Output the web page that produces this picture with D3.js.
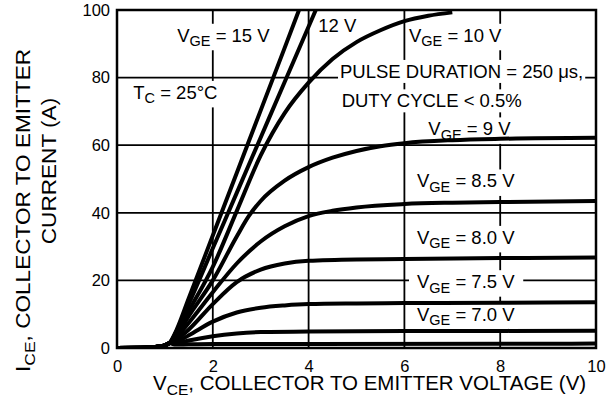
<!DOCTYPE html>
<html><head><meta charset="utf-8">
<script src="https://cdn.jsdelivr.net/npm/d3@7"></script>
<style>
html,body{margin:0;padding:0;background:#fff;}
svg{display:block;font-family:"Liberation Sans",Arial,Helvetica,sans-serif;}
</style></head>
<body>
<svg id="chart" width="613" height="407"></svg>
<script>
// ---- data (VCE in volts, ICE in amperes) ----
const xTicks = [0, 2, 4, 6, 8, 10];
const yTicks = [0, 20, 40, 60, 80, 100];
const leakage = [[0,0],[0.5,0.05],[0.8,0.3],[1.0,0.8],[1.1,1.5]];
const vge15 = [[1.2,4],[1.5,14.8],[2,33.3],[2.5,51.8],[3,70.3],[3.5,88.8],[3.8,100]];
const vge12 = [[1.2,3.8],[1.5,13.1],[2,29.5],[2.5,45.9],[3,62.3],[3.5,78.7],[4.15,100]];
const vge10 = [[1.2,3.2],[1.5,11],[2,24],[2.5,40.5],[3,57],[3.5,69.5],[4,78.5],[4.5,85.5],[5,90.5],[5.5,94],[6,96.7],[6.5,98.3],[7,99.3]];
const vge9  = [[1.2,2.8],[1.5,9.5],[2,20],[2.5,33],[2.75,39],[3,43.5],[3.5,49.5],[4,53.5],[4.5,56.3],[5,58.3],[5.5,59.7],[6,60.6],[7,61.5],[8,61.9],[10,62.2]];
const vge85 = [[1.2,2.5],[1.5,7.5],[2,16.5],[2.5,25],[3,31.5],[3.5,36],[4,39],[4.5,40.6],[5,41.6],[6,42.6],[7,43],[8,43.2],[10,43.5]];
const vge80 = [[1.2,2],[1.5,5.5],[2,13],[2.5,19.5],[3,23.2],[3.5,25],[4,25.8],[5,26.2],[6,26.3],[8,26.6],[10,26.8]];
const vge75 = [[1.2,1.6],[1.5,3.8],[2,7.8],[2.5,10.5],[3,11.9],[3.5,12.6],[4,13],[5,13.2],[6,13.3],[8,13.4],[10,13.5]];
const vge70 = [[1.2,1.2],[1.5,2.2],[2,3.5],[2.5,4.3],[3,4.7],[4,4.9],[6,5],[10,5.1]];
const vge65 = [[1.2,1.0],[1.5,1.1],[2,1.2],[4,1.2],[10,1.3]];
const series = [vge15, vge12, vge10, vge9, vge85, vge80, vge75, vge70, vge65];

// ---- layout ----
const svg = d3.select("#chart");
const x = d3.scaleLinear().domain([0,10]).range([117,596]);
const y = d3.scaleLinear().domain([0,100]).range([348,10]);
const font = '"Liberation Sans",Arial,Helvetica,sans-serif';

// grid
const grid = svg.append("g");
grid.selectAll("line.v").data(xTicks.slice(1,-1)).join("line")
  .attr("x1", d=>x(d)).attr("x2", d=>x(d)).attr("y1", y(0)).attr("y2", y(100))
  .attr("stroke","#000").attr("stroke-width",1.8);
grid.selectAll("line.h").data(yTicks.slice(1,-1)).join("line")
  .attr("x1", x(0)).attr("x2", x(10)).attr("y1", d=>y(d)).attr("y2", d=>y(d))
  .attr("stroke","#000").attr("stroke-width",1.8);

const bgLayer = svg.append("g");
const curveLayer = svg.append("g");
const textLayer = svg.append("g");

// curves
svg.append("clipPath").attr("id","clip").append("rect")
  .attr("x", x(0)).attr("y", y(100)).attr("width", x(10)-x(0)).attr("height", y(0)-y(100));
const line = d3.line().x(d=>x(d[0])).y(d=>y(d[1])).curve(d3.curveMonotoneX);
curveLayer.attr("clip-path","url(#clip)").selectAll("path").data(series).join("path")
  .attr("d", d=>line(leakage.concat(d)))
  .attr("fill","none").attr("stroke","#000").attr("stroke-width",4)
  .attr("stroke-linejoin","round");

// border
svg.append("rect").attr("x", x(0)).attr("y", y(100)).attr("width", x(10)-x(0)).attr("height", y(0)-y(100))
  .attr("fill","none").attr("stroke","#000").attr("stroke-width",2.5);

// axes tick labels
const xAxis = d3.axisBottom(x).tickValues(xTicks).tickSize(0).tickPadding(12).tickFormat(d3.format("d"));
const gx = svg.append("g").attr("transform",`translate(0,${y(0)})`).call(xAxis);
gx.select(".domain").remove();
gx.selectAll("text").attr("font-size",16.5).attr("font-family",font).attr("fill","#000");
const yAxis = d3.axisLeft(y).tickValues(yTicks).tickSize(0).tickPadding(7).tickFormat(d3.format("d"));
const gy = svg.append("g").attr("transform",`translate(${x(0)},0)`).call(yAxis);
gy.select(".domain").remove();
gy.selectAll("text").attr("font-size",16.5).attr("font-family",font).attr("fill","#000");

// helper for text with subscript
function label(g, parts, size, subSize, shift) {
  const t = g.append("text").attr("font-size", size).attr("font-family", font).attr("fill","#000");
  let pending = 0;
  parts.forEach(p => {
    if (p.sub) {
      t.append("tspan").attr("font-size", subSize).attr("dy", shift - pending).text(p.sub);
      pending = shift;
    } else {
      const s = t.append("tspan").text(p.t);
      if (pending) { s.attr("dy", -pending); pending = 0; }
    }
  });
  return t;
}

// in-plot labels (positions in data units)
const notes = [
  {v:1.257, i:90.6, parts:[{t:"V"},{sub:"GE"},{t:" = 15 V"}], pad:3},
  {v:4.20,  i:93.4, parts:[{t:"12 V"}], pad:2},
  {v:6.096, i:90.6, parts:[{t:"V"},{sub:"GE"},{t:" = 10 V"}], pad:3},
  {v:4.656, i:79.9, parts:[{t:"PULSE DURATION = 250 \u03BCs,"}], pad:2},
  {v:4.69,  i:71.2, parts:[{t:"DUTY CYCLE < 0.5%"}], pad:2},
  {v:6.50,  i:62.9, parts:[{t:"V"},{sub:"GE"},{t:" = 9 V"}], pad:3},
  {v:6.263, i:47.5, parts:[{t:"V"},{sub:"GE"},{t:" = 8.5 V"}], pad:3},
  {v:6.263, i:30.8, parts:[{t:"V"},{sub:"GE"},{t:" = 8.0 V"}], pad:3},
  {v:6.263, i:17.7, parts:[{t:"V"},{sub:"GE"},{t:" = 7.5 V"}], pad:8},
  {v:6.263, i:7.99, parts:[{t:"V"},{sub:"GE"},{t:" = 7.0 V"}], pad:3},
  {v:0.339, i:73.7, parts:[{t:"T"},{sub:"C"},{t:" = 25\u00B0C"}], pad:3}
];
notes.forEach(n => {
  const t = label(textLayer, n.parts, 18.5, 14.5, 4.5).attr("x", x(n.v)).attr("y", y(n.i));
  const b = t.node().getBBox();
  bgLayer.append("rect").attr("x", b.x - n.pad).attr("y", b.y - 1)
    .attr("width", b.width + 2*n.pad).attr("height", b.height + 2).attr("fill","#fff");
});

// axis titles
label(svg, [{t:"V"},{sub:"CE"},{t:", COLLECTOR TO EMITTER VOLTAGE (V)"}], 20.5, 15.5, 5)
  .attr("x", 153).attr("y", 389.5);
label(svg, [{t:"I"},{sub:"CE"},{t:", COLLECTOR TO EMITTER"}], 20, 15.5, 5)
  .attr("transform","translate(30,372) rotate(-90) scale(1.13,1)");
svg.append("text").attr("font-size",20).attr("font-family",font).attr("text-anchor","middle")
  .attr("transform","translate(56,171) rotate(-90) scale(1.13,1)").text("CURRENT (A)");
</script>
</body></html>
